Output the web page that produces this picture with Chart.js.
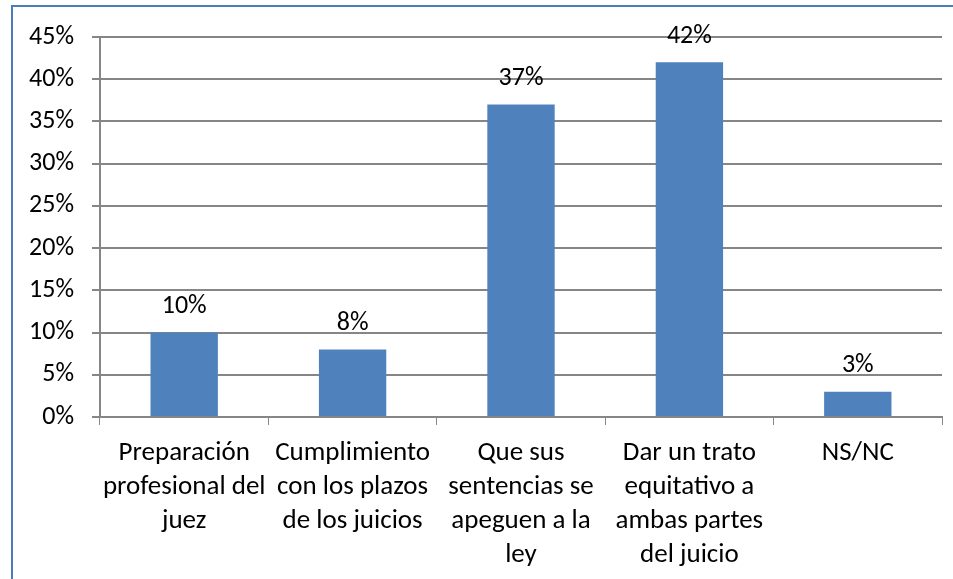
<!DOCTYPE html>
<html>
<head>
<meta charset="utf-8">
<script src="https://cdn.jsdelivr.net/npm/chart.js@4/dist/chart.umd.min.js"></script>
<style>
    html, body { margin: 0; padding: 0; background: #fff; overflow: hidden; }
    #frame {
        position: absolute; left: 11px; top: 5px;
        width: 940px; height: 572px;
        border-left: 2px solid #4a7ebb; border-top: 2px solid #4a7ebb;
        background: #fff;
    }
    #chart { display: block; }
</style>
</head>
<body>
<div id="frame"><canvas id="chart" width="940" height="572"></canvas></div>
<script>
// data
const categories = [
    ['Preparación', 'profesional del', 'juez'],
    ['Cumplimiento', 'con los plazos', 'de los juicios'],
    ['Que sus', 'sentencias se', 'apeguen a la', 'ley'],
    ['Dar un trato', 'equitativo a', 'ambas partes', 'del juicio'],
    ['NS/NC']
];
const percentages = [10, 8, 37, 42, 3];
const yTicks = [0, 5, 10, 15, 20, 25, 30, 35, 40, 45];

const FONT = "Carlito, Calibri, Lato, sans-serif";
const gridColor = '#868686';

// draws the value above each bar
const valueLabels = {
    id: 'valueLabels',
    afterDatasetsDraw(chart) {
        const ctx = chart.ctx;
        const meta = chart.getDatasetMeta(0);
        ctx.save();
        ctx.font = '26px ' + FONT;
        ctx.fillStyle = '#000';
        ctx.textAlign = 'center';
        ctx.textBaseline = 'middle';
        meta.data.forEach((bar, i) => {
            ctx.fillText(percentages[i] + '%', bar.x, bar.y - 26);
        });
        ctx.restore();
    }
};

new Chart(document.getElementById('chart'), {
    type: 'bar',
    data: {
        labels: categories,
        datasets: [{
            data: percentages,
            backgroundColor: '#4f81bd',
            barPercentage: 0.4,
            categoryPercentage: 1
        }]
    },
    options: {
        responsive: false,
        animation: false,
        layout: { padding: { top: 30, right: 11, left: 0, bottom: 0 } },
        plugins: { legend: { display: false }, tooltip: { enabled: false } },
        scales: {
            x: {
                grid: { drawOnChartArea: false, drawTicks: true, tickLength: 8, color: gridColor, offset: true },
                border: { color: gridColor, width: 2 },
                ticks: {
                    color: '#000', padding: 11, maxRotation: 0, autoSkip: false,
                    font: { family: FONT, size: 27, lineHeight: '34px' }
                },
                afterFit(scale) { scale.height = 162; }
            },
            y: {
                min: 0, max: 45,
                afterBuildTicks(scale) { scale.ticks = yTicks.map(v => ({ value: v })); },
                grid: { color: gridColor, lineWidth: 2, tickLength: 8 },
                border: { color: gridColor, width: 2 },
                ticks: {
                    color: '#000', padding: 18,
                    font: { family: FONT, size: 26 },
                    callback: v => v + '%'
                },
                afterFit(scale) {
                    scale.width = 87;
                    scale.paddingTop = 0;
                    scale.paddingBottom = 0;
                }
            }
        }
    },
    plugins: [valueLabels]
});
</script>
</body>
</html>
